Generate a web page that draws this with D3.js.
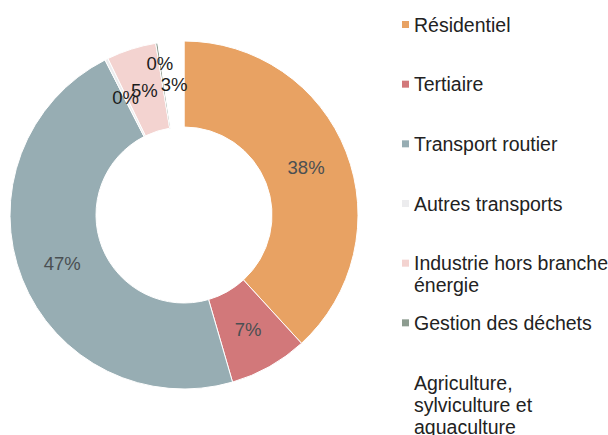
<!DOCTYPE html>
<html>
<head>
<meta charset="utf-8">
<script src="https://cdn.jsdelivr.net/npm/d3@7"></script>
<style>
  body { margin: 0; background: #fff; }
  svg { font-family: "Liberation Sans", Arial, sans-serif; }
</style>
</head>
<body>
<script>
// slice order is clockwise from 12 o'clock
var categories = ["Résidentiel", "Tertiaire", "Transport routier", "Autres transports",
                  "Industrie hors branche énergie", "Gestion des déchets",
                  "Agriculture, sylviculture et aquaculture"];
var values = [38.2, 7.3, 47.0, 0.3, 4.6, 0.2, 2.4];
var pctLabels = ["38%", "7%", "47%", "0%", "5%", "0%", "3%"];
var legendLines = [["Résidentiel"], ["Tertiaire"], ["Transport routier"], ["Autres transports"],
                   ["Industrie hors branche", "énergie"], ["Gestion des déchets"],
                   ["Agriculture,", "sylviculture et", "aquaculture"]];
var colors = ["#e8a263", "#d2787a", "#97adb3", "#ececee", "#f3d3d0", "#8d9c90", "#ffffff"];

var width = 608, height = 435;
var cx = 184, cy = 215, outerR = 174, innerR = 88;

var svg = d3.select("body").append("svg")
    .attr("width", width)
    .attr("height", height);

var data = categories.map(function(c, i) {
  return {name: c, value: values[i], label: pctLabels[i], lines: legendLines[i]};
});

var pie = d3.pie().sort(null).value(function(d) { return d.value; });
var arc = d3.arc().innerRadius(innerR).outerRadius(outerR);
var color = d3.scaleOrdinal().domain(categories).range(colors);

var g = svg.append("g").attr("transform", "translate(" + cx + "," + cy + ")");
var arcs = pie(data);

g.selectAll("path")
  .data(arcs)
  .enter().append("path")
    .attr("d", arc)
    .attr("fill", function(d) { return color(d.data.name); })
    .attr("stroke", "#fff")
    .attr("stroke-width", 1);

// tiny slices: the second one gets pushed outward so labels don't sit on top of each other
var tinyCount = 0;
g.selectAll("text.pct")
  .data(arcs)
  .enter().append("text")
    .attr("class", "pct")
    .attr("transform", function(d) {
      var c = arc.centroid(d);
      if (d.data.value < 1) {
        tinyCount++;
        if (tinyCount > 1) {
          var a = (d.startAngle + d.endAngle) / 2, r = (innerR + outerR) / 2 + 23;
          c = [Math.sin(a) * r, -Math.cos(a) * r];
        }
      }
      return "translate(" + c + ")";
    })
    .attr("text-anchor", "middle")
    .attr("dy", "0.36em")
    .style("font-size", "18.5px")
    .attr("fill", function(d) { return d.data.value < 6 ? "#1c1c1c" : "#4a4f52"; })
    .text(function(d) { return d.data.label; });

// legend
var ly = d3.scalePoint().domain(categories).range([25, 383]);

var legend = svg.append("g").selectAll("g")
  .data(data)
  .enter().append("g")
    .attr("transform", function(d) { return "translate(402," + ly(d.name) + ")"; });

legend.append("rect")
    .attr("x", 0)
    .attr("y", -4)
    .attr("width", 7)
    .attr("height", 7)
    .attr("fill", function(d) { return color(d.name); });

legend.append("text")
    .attr("x", 12)
    .attr("fill", "#222")
    .style("font-size", "19.5px")
    .selectAll("tspan")
    .data(function(d) { return d.lines; })
    .enter().append("tspan")
      .attr("x", 12)
      .attr("dy", function(d, i) { return i === 0 ? "0.35em" : 22; })
      .text(function(d) { return d; });
</script>
</body>
</html>
